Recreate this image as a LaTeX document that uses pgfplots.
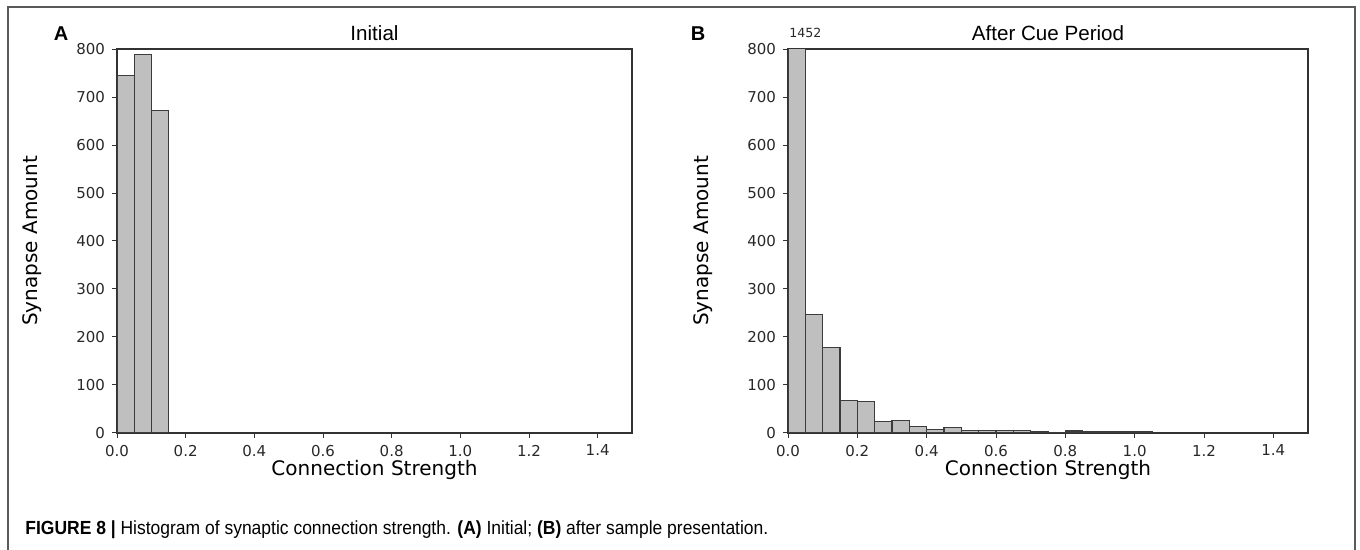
\documentclass[border=0pt]{standalone}
\usepackage{fontspec}
\setmainfont{Liberation Sans}
\newfontfamily\dejavu{DejaVu Sans}
\newfontfamily\capfont[FakeStretch=0.92]{Liberation Sans}
\usepackage{pgfplots}
\pgfplotsset{compat=1.18}
\definecolor{barfill}{RGB}{191,191,191}
\definecolor{baredge}{RGB}{60,60,60}
\definecolor{axcol}{RGB}{50,50,50}
\definecolor{txtcol}{RGB}{40,40,40}
\definecolor{framecol}{RGB}{90,90,90}
\pgfplotsset{histo/.style={
  scale only axis, height=192pt, anchor=south west,
  xmin=0, xmax=1.5, ymin=0, ymax=800,
  xtick={0,0.2,0.4,0.6,0.8,1.0,1.2,1.4}, ytick={0,100,200,300,400,500,600,700,800},
  tick pos=left, tick align=outside, major tick length=2.5pt,
  every tick/.style={axcol, line width=0.5pt},
  axis line style={axcol, line width=0.7pt},
  x tick label style={/pgf/number format/.cd, fixed, fixed zerofill, precision=1, /tikz/.cd},
  /pgf/number format/assume math mode=true,
  tick label style={font=\dejavu\fontsize{7.5}{9}\selectfont, text=txtcol},
  label style={font=\dejavu\fontsize{10}{12}\selectfont, text=black},
  xlabel={Connection Strength},
  ylabel={Synapse Amount},
  x label style={at={(axis description cs:0.5,-0.096)}, anchor=center},
  y label style={at={(axis description cs:-0.165,0.5)}, anchor=center},
  every axis title shift=0pt,
  title style={at={(axis description cs:0.5,1.042)}, anchor=center, yshift=0pt, font=\fontsize{10.3}{12}\selectfont},
}}
\begin{document}
\begin{tikzpicture}
\useasboundingbox (0,0) rectangle (680pt,275pt);
\draw[framecol, line width=0.8pt] (4pt,-1pt) -- (4pt,271.5pt) -- (677.5pt,271.5pt) -- (677.5pt,-1pt);
\begin{axis}[histo, width=257.5pt, at={(58.5pt,58.5pt)}, title={Initial}]
\addplot[ybar interval, fill=barfill, draw=baredge, line width=0.6pt] coordinates {
(0,745) (0.05,788) (0.10,672) (0.15,672)};
\end{axis}
\begin{axis}[histo, width=260pt, at={(394pt,58.5pt)}, title={After Cue Period}, y label style={at={(axis description cs:-0.163,0.5)}}]
\addplot[ybar interval, fill=barfill, draw=baredge, line width=0.6pt] coordinates {
(0,1452) (0.05,247) (0.10,178) (0.15,68) (0.20,65) (0.25,24) (0.30,26) (0.35,14)
(0.40,8) (0.45,11) (0.50,6) (0.55,6) (0.60,6) (0.65,6) (0.70,2) (0.75,0)
(0.80,4) (0.85,2) (0.90,2) (0.95,2) (1.00,2) (1.05,2)};
\end{axis}
\node[font=\dejavu\fontsize{6.3}{7}\selectfont, text=txtcol, anchor=center] at (402.7pt,258.5pt) {1452};
\node[font=\bfseries\fontsize{10}{12}\selectfont, anchor=center] at (30.5pt,258.25pt) {A};
\node[font=\bfseries\fontsize{10}{12}\selectfont, anchor=center] at (349pt,258.25pt) {B};
\node[anchor=west, inner sep=0pt, font=\capfont\fontsize{9.5}{11}\selectfont] at (12.5pt,10pt)
  {\textbf{FIGURE 8 |} Histogram of synaptic connection strength. \textbf{(A)} Initial; \textbf{(B)} after sample presentation.};
\end{tikzpicture}
\end{document}
